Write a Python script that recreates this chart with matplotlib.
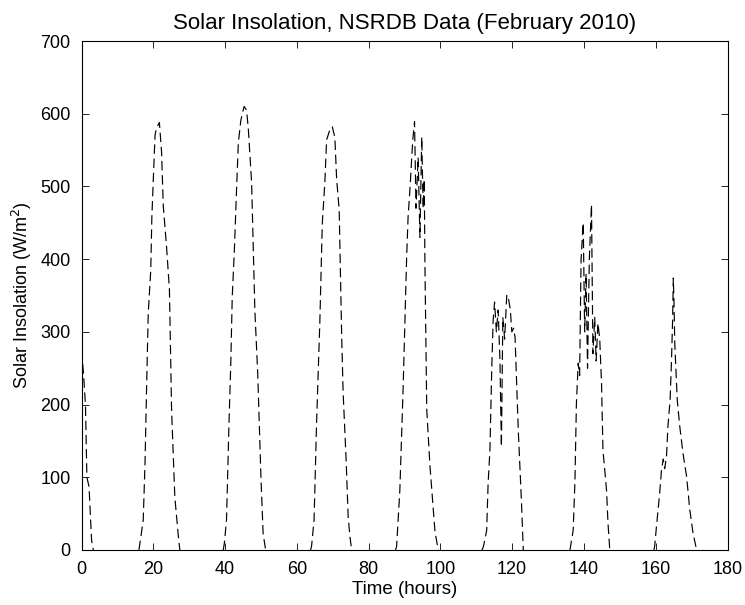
import numpy as np
import matplotlib
matplotlib.use("Agg")
import matplotlib.pyplot as plt

plt.rcParams['font.family'] = ['Liberation Sans', 'DejaVu Sans']

# ---- data (hours, W/m^2) ----
hours_d0 = [0, 0.6, 1.1, 1.5, 2.1, 2.8, 3.3]
sol_d0 = [275, 240, 200, 100, 87, 14, 0]

hours_d1 = [16.0, 16.3, 17.2, 17.7, 18.2, 18.6, 19.3, 19.6, 20.0, 20.5, 20.9, 21.7,
            22.3, 22.8, 23.7, 24.5, 25.1, 26.0, 27.0, 27.4]
sol_d1 = [0, 10, 41, 120, 238, 326, 385, 457, 509, 571, 580, 588,
          548, 472, 417, 358, 193, 73, 18, 0]

hours_d2 = [39.5, 39.8, 40.4, 41.1, 41.6, 42.0, 42.6, 43.2, 43.7, 44.4, 45.3, 46.0,
            46.5, 47.4, 48.3, 49.1, 50.0, 50.6, 51.3]
sol_d2 = [0, 9, 41, 175, 257, 348, 413, 495, 560, 591, 610, 605,
          578, 505, 330, 243, 100, 23, 0]

hours_d3 = [63.8, 64.1, 64.8, 65.5, 66.4, 67.1, 67.8, 68.3, 69.2, 69.9, 70.6, 71.1,
            71.8, 72.5, 72.9, 73.7, 74.3, 74.8, 75.3]
sol_d3 = [0, 5, 41, 175, 312, 450, 505, 564, 578, 582, 567, 509,
          468, 293, 216, 128, 46, 18, 0]

hours_d4 = [87.5, 87.8, 88.7, 89.6, 90.6, 91.0, 91.5, 92.3, 92.8, 93.2, 93.8, 94.3,
            94.8, 95.2, 95.5, 95.7, 96.2, 97.1, 98.5, 99.4]
sol_d4 = [0, 5, 82, 220, 403, 458, 495, 564, 589, 470, 540, 430,
          568, 470, 510, 390, 193, 115, 25, 0]

hours_d5 = [111.6, 112.0, 112.9, 113.3, 113.8, 114.3, 114.7, 115.1, 115.6, 116.1, 116.6,
            117.0, 117.4, 117.9, 118.5, 119.0, 119.5, 119.9, 120.4, 120.8, 121.7, 122.6, 123.1]
sol_d5 = [0, 5, 27, 92, 137, 247, 316, 341, 300, 330, 260,
          142, 320, 290, 351, 345, 330, 300, 305, 293, 165, 65, 0]

hours_d6 = [136.1, 137.0, 137.5, 137.9, 138.4, 138.8, 139.2, 139.8, 140.2, 140.6, 141.0,
            141.5, 142.1, 142.5, 143.0, 143.4, 143.9, 144.4, 144.9, 145.3, 146.3, 146.7, 147.2]
sol_d6 = [0, 27, 96, 202, 257, 240, 400, 450, 300, 380, 250,
          400, 475, 270, 320, 260, 312, 290, 229, 137, 82, 37, 0]

hours_d7 = [159.5, 159.7, 160.2, 161.1, 161.6, 162.1, 162.5, 163.0, 163.4, 164.0, 164.4,
            164.7, 164.9, 165.1, 165.3, 166.0, 166.7, 167.6, 168.6, 169.5, 170.4, 171.4]
sol_d7 = [0, 5, 32, 78, 110, 125, 112, 128, 170, 206, 261,
          316, 374, 340, 285, 206, 170, 133, 101, 55, 23, 0]

x_ticks = [0, 20, 40, 60, 80, 100, 120, 140, 160, 180]
y_ticks = [0, 100, 200, 300, 400, 500, 600, 700]

days = [(hours_d0, sol_d0), (hours_d1, sol_d1), (hours_d2, sol_d2), (hours_d3, sol_d3),
        (hours_d4, sol_d4), (hours_d5, sol_d5), (hours_d6, sol_d6), (hours_d7, sol_d7)]

fig = plt.figure(figsize=(7.45, 6.05), dpi=100)
ax = fig.add_axes([81.5 / 745, 55 / 605, 646 / 745, 509 / 605])

for h, s in days:
    line, = ax.plot(h, s, color='black', linestyle='--', linewidth=0.85)
    line.set_dashes((8, 4))

ax.set_xlim(0, 180)
ax.set_ylim(0, 700)
ax.set_xticks(x_ticks)
ax.set_yticks(y_ticks)
ax.tick_params(direction='in', top=True, right=True, length=5, width=0.6,
               labelsize=13, pad=8)
for sp in ax.spines.values():
    sp.set_linewidth(0.8)

ax.set_title('Solar Insolation, NSRDB Data (February 2010)', fontsize=16, pad=9)
ax.set_xlabel('Time (hours)', fontsize=13.5, labelpad=2)
ax.set_ylabel('Solar Insolation (W/m$^2$)', fontsize=13, labelpad=4)

fig.savefig('out.png', dpi=100)
